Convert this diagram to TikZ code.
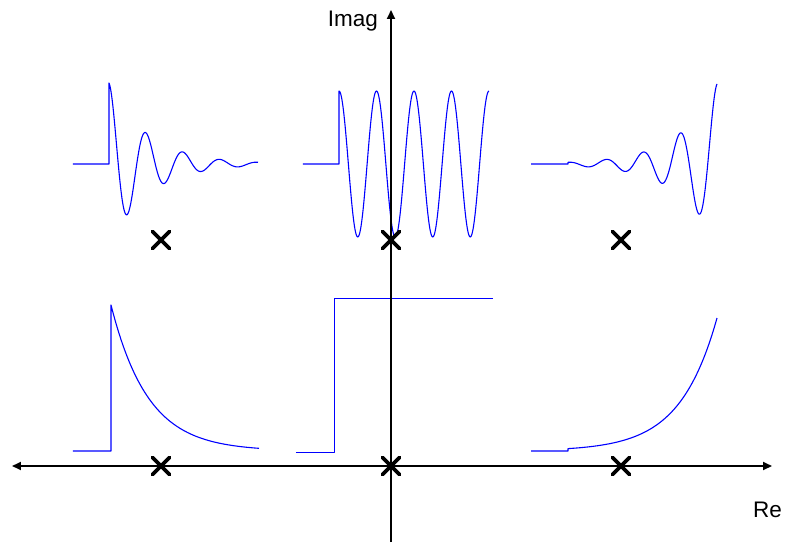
\documentclass[tikz,border=0pt]{standalone}
\usepackage{fontspec}
\setmainfont{Liberation Sans}
\usetikzlibrary{arrows.meta}

\begin{document}
\begin{tikzpicture}[x=1pt, y=1pt, >={Triangle[length=9pt,width=8pt]},
    wave/.style={blue, line width=1.1pt, line join=round},
    axis/.style={line width=1.8pt},
    pole/.style={line width=3.6pt, line cap=round},
    axislabel/.style={inner sep=0pt, font=\fontsize{22.5}{27}\selectfont}]
    \useasboundingbox (-391,-76) rectangle (395,466);

    % Poles
    \coordinate (O) at (0,0);
    \coordinate (PL) at (-230,0);
    \coordinate (PR) at (230,0);
    \coordinate (CL) at (-230,226);
    \coordinate (CM) at (0,226);
    \coordinate (CR) at (230,226);

    % Impulse responses, one over each pole (period 37 -> 9.7297 deg per unit)
    \begin{scope}[shift={(CL)}]
        \draw[wave] (-88,76) -- (-52,76) -- plot[domain=0:149, samples=300] ({-52+\x},{76+81*exp(-0.0258*\x)*cos(9.7297*\x)});
    \end{scope}
    \begin{scope}[shift={(CM)}]
        \draw[wave] (-88,76) -- (-52,76) -- plot[domain=0:150, samples=300] ({-52+\x},{76+73*cos(9.6*\x)});
    \end{scope}
    \begin{scope}[shift={(CR)}]
        \draw[wave] (-90,76) -- (-53,76) -- plot[domain=0:149, samples=300] ({-53+\x},{76+80*exp(0.0258*(\x-149))*cos(9.7297*(\x-149))});
    \end{scope}
    \begin{scope}[shift={(PL)}]
        \draw[wave] (-88,15) -- (-50,15) -- plot[domain=0:148, samples=150] ({-50+\x},{15+146*exp(-0.027*\x)});
    \end{scope}
    \begin{scope}[shift={(O)}]
        \draw[wave, line width=0.9pt] (-95,13.5) -- (-56.5,13.5) -- (-56.5,168) -- (102,168);
    \end{scope}
    \begin{scope}[shift={(PR)}]
        \draw[wave] (-90,15) -- (-53,15) -- plot[domain=0:149, samples=150] ({-53+\x},{15+133*exp(0.027*(\x-149))});
    \end{scope}

    % Axes
    \coordinate (xmin) at (-379,0);
    \coordinate (xmax) at (381,0);
    \coordinate (ymin) at (0,-76);
    \coordinate (ymax) at (0,456);
    \draw[axis, <->] (xmin) -- (xmax);
    \draw[axis, ->] (ymin) -- (ymax);
    \node[axislabel, anchor=base east] (imag) at (-13,439) {Imag};
    \node[axislabel, anchor=base west] (re) at (362,-51) {Re};

    % Pole crosses
    \draw[pole] (PL) +(-8.5,-8.5) -- +(8.5,8.5) (PL) +(-8.5,8.5) -- +(8.5,-8.5);
    \draw[pole] (O) +(-8.5,-8.5) -- +(8.5,8.5) (O) +(-8.5,8.5) -- +(8.5,-8.5);
    \draw[pole] (PR) +(-8.5,-8.5) -- +(8.5,8.5) (PR) +(-8.5,8.5) -- +(8.5,-8.5);
    \draw[pole] (CL) +(-8.5,-8.5) -- +(8.5,8.5) (CL) +(-8.5,8.5) -- +(8.5,-8.5);
    \draw[pole] (CM) +(-8.5,-8.5) -- +(8.5,8.5) (CM) +(-8.5,8.5) -- +(8.5,-8.5);
    \draw[pole] (CR) +(-8.5,-8.5) -- +(8.5,8.5) (CR) +(-8.5,8.5) -- +(8.5,-8.5);
\end{tikzpicture}
\end{document}
